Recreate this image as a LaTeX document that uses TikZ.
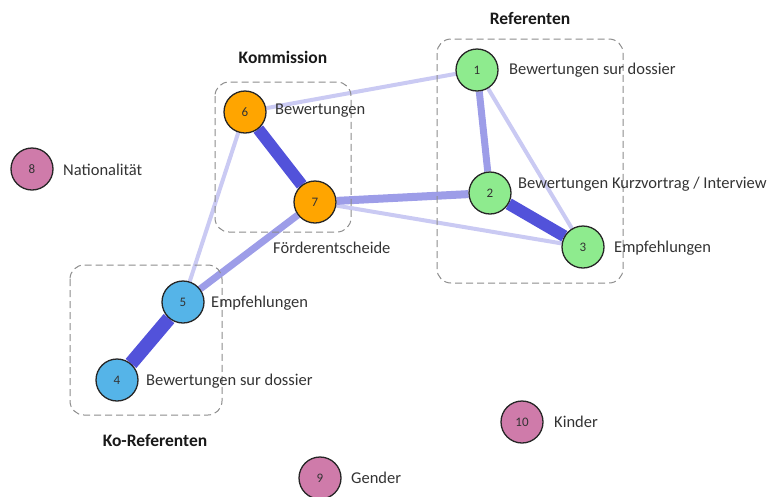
\documentclass[tikz,border=0pt]{standalone}
\usepackage{fontspec}
\setmainfont{Carlito}
\usetikzlibrary{backgrounds}
\definecolor{ngreen}{HTML}{8EEB8E}
\definecolor{norange}{HTML}{FFA500}
\definecolor{nblue}{HTML}{55B4E8}
\definecolor{npink}{HTML}{CF7BAA}
\definecolor{estrong}{HTML}{5252DA}
\definecolor{emid}{HTML}{9D9DE8}
\definecolor{eweak}{HTML}{CACAF3}
\definecolor{txt}{HTML}{333333}
\tikzset{
  vnode/.style={circle, draw=black!85, line width=1.3pt, minimum size=42pt, inner sep=0pt, font=\fontsize{13}{14}\selectfont, text=black!80},
  lbl/.style={anchor=west, inner sep=0pt, font=\fontsize{16.5}{18}\selectfont, text=txt},
  ttl/.style={inner sep=0pt, font=\fontsize{17.5}{20}\selectfont\bfseries, text=black!90},
  grp/.style={draw=black!45, dashed, dash pattern=on 7pt off 4pt, line width=1pt, rounded corners=14pt},
  strong/.style={draw=estrong, line width=12pt},
  mid/.style={draw=emid, line width=7pt},
  weak/.style={draw=eweak, line width=4pt},
}
\begin{document}
\begin{tikzpicture}[x=1pt,y=-1pt]
\useasboundingbox (0,0) rectangle (768,496);
% nodes
\node[vnode, fill=ngreen] (n1) at (477,70) {1};
\node[vnode, fill=ngreen] (n2) at (490,193) {2};
\node[vnode, fill=ngreen] (n3) at (583,247) {3};
\node[vnode, fill=nblue] (n4) at (117,380) {4};
\node[vnode, fill=nblue] (n5) at (183,302) {5};
\node[vnode, fill=norange] (n6) at (245,112) {6};
\node[vnode, fill=norange] (n7) at (315,202) {7};
\node[vnode, fill=npink] (n8) at (32,169) {8};
\node[vnode, fill=npink] (n9) at (320,478) {9};
\node[vnode, fill=npink] (n10) at (522,422) {10};
% edges
\begin{pgfonlayer}{background}
\draw[weak] (n6) -- (n1);
\draw[weak] (n6) -- (n5);
\draw[weak] (n7) -- (n3);
\draw[weak] (n1) -- (n3);
\draw[mid] (n1) -- (n2);
\draw[mid] (n7) -- (n5);
\draw[mid, line width=8pt] (n7) -- (n2);
\draw[strong] (n6) -- (n7);
\draw[strong] (n2) -- (n3);
\draw[strong, line width=14pt] (n4) -- (n5);
% groups
\draw[grp] (215,82) rectangle (351,232);
\draw[grp] (437,39) rectangle (623,283);
\draw[grp] (70,265) rectangle (222,415);
\end{pgfonlayer}
% titles
\node[ttl] (tK) at (283,57) {Kommission};
\node[ttl] (tR) at (530,18) {Referenten};
\node[ttl] (tKo) at (155,440) {Ko-Referenten};
% labels
\node[lbl] (l6) at (275,111) {Bewertungen};
\node[lbl] (l7) at (273,248) {Förderentscheide};
\node[lbl] (l1) at (509,70) {Bewertungen sur dossier};
\node[lbl] (l2) at (518,184) {Bewertungen Kurzvortrag / Interview};
\node[lbl] (l3) at (614,248) {Empfehlungen};
\node[lbl] (l5) at (211,303) {Empfehlungen};
\node[lbl] (l4) at (146,381) {Bewertungen sur dossier};
\node[lbl] (l8) at (63,170) {Nationalität};
\node[lbl] (l10) at (554,422) {Kinder};
\node[lbl] (l9) at (351,478) {Gender};
\end{tikzpicture}
\end{document}
